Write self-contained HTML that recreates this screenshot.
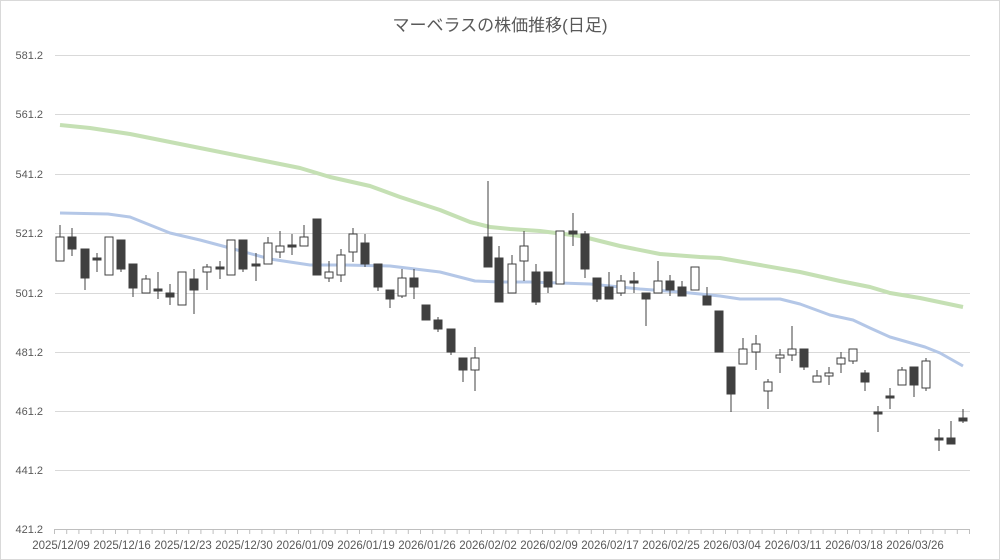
<!DOCTYPE html>
<html><head><meta charset="utf-8"><style>
html,body{margin:0;padding:0;background:#fff}
svg{display:block}
text{font-family:"Liberation Sans","Noto Sans CJK JP",sans-serif;fill:#595959}
</style></head><body>
<svg width="1000" height="560" viewBox="0 0 1000 560" xmlns="http://www.w3.org/2000/svg">
<rect x="0.5" y="0.5" width="999" height="559" fill="#fff" stroke="#d9d9d9"/>
<text x="500" y="31" font-size="17" text-anchor="middle">マーベラスの株価推移(日足)</text>
<g stroke="#d9d9d9" stroke-width="1">
<line x1="55" x2="970" y1="55.5" y2="55.5"/><line x1="55" x2="970" y1="114.5" y2="114.5"/>
<line x1="55" x2="970" y1="174.5" y2="174.5"/><line x1="55" x2="970" y1="233.5" y2="233.5"/>
<line x1="55" x2="970" y1="293.5" y2="293.5"/><line x1="55" x2="970" y1="352.5" y2="352.5"/>
<line x1="55" x2="970" y1="411.5" y2="411.5"/><line x1="55" x2="970" y1="470.5" y2="470.5"/>
</g>
<line x1="55" x2="970" y1="529.5" y2="529.5" stroke="#bfbfbf"/>
<g stroke="#bfbfbf" id="ticks">
<path d="M54.5 529v5M66.7 529v5M78.9 529v5M91.1 529v5M103.3 529v5M115.5 529v5M127.7 529v5M139.9 529v5M152.1 529v5M164.3 529v5M176.5 529v5M188.7 529v5M200.9 529v5M213.1 529v5M225.3 529v5M237.5 529v5M249.7 529v5M261.9 529v5M274.1 529v5M286.3 529v5M298.5 529v5M310.7 529v5M322.9 529v5M335.1 529v5M347.3 529v5M359.5 529v5M371.7 529v5M383.9 529v5M396.1 529v5M408.3 529v5M420.5 529v5M432.7 529v5M444.9 529v5M457.1 529v5M469.3 529v5M481.5 529v5M493.7 529v5M505.9 529v5M518.1 529v5M530.3 529v5M542.5 529v5M554.7 529v5M566.9 529v5M579.1 529v5M591.3 529v5M603.5 529v5M615.7 529v5M627.9 529v5M640.1 529v5M652.3 529v5M664.5 529v5M676.7 529v5M688.9 529v5M701.1 529v5M713.3 529v5M725.5 529v5M737.7 529v5M749.9 529v5M762.1 529v5M774.3 529v5M786.5 529v5M798.7 529v5M810.9 529v5M823.1 529v5M835.3 529v5M847.5 529v5M859.7 529v5M871.9 529v5M884.1 529v5M896.3 529v5M908.5 529v5M920.7 529v5M932.9 529v5M945.1 529v5M957.3 529v5M969.5 529v5"/>
</g>
<g font-size="11" text-anchor="end">
<text x="43" y="59">581.2</text><text x="43" y="118">561.2</text><text x="43" y="178">541.2</text>
<text x="43" y="237">521.2</text><text x="43" y="297">501.2</text><text x="43" y="356">481.2</text>
<text x="43" y="415">461.2</text><text x="43" y="474">441.2</text><text x="43" y="533">421.2</text>
</g>
<g font-size="11.5" text-anchor="middle">
<text x="61" y="549">2025/12/09</text><text x="122" y="549">2025/12/16</text><text x="183" y="549">2025/12/23</text>
<text x="244" y="549">2025/12/30</text><text x="305" y="549">2026/01/09</text><text x="366" y="549">2026/01/19</text>
<text x="427" y="549">2026/01/26</text><text x="488" y="549">2026/02/02</text><text x="549" y="549">2026/02/09</text>
<text x="610" y="549">2026/02/17</text><text x="671" y="549">2026/02/25</text><text x="732" y="549">2026/03/04</text>
<text x="793" y="549">2026/03/11</text><text x="854" y="549">2026/03/18</text><text x="915" y="549">2026/03/26</text>
</g>
<polyline fill="none" stroke="#c5e0b4" stroke-width="4" stroke-linejoin="round" points="60,125 90,128 130,134 170,142 200,148 260,160 300,168 330,177 370,186 400,197 440,210 470,222 490,227 510,229 540,231 580,236 620,246 660,254 700,257 720,258 760,265 800,272 840,281 870,287 890,293 920,298 963,307"/>
<polyline fill="none" stroke="#b4c7e7" stroke-width="3" stroke-linejoin="round" points="60,213 108,214 130,217 170,233 200,240 230,248 270,259 310,265 345,265 390,266 440,272 475,281 500,282 530,282 560,283 590,284 610,286 640,289 680,292 720,296 740,299 780,299 800,304 830,315 853,320 870,328 890,337 925,347 940,353 963,366"/>
<g stroke="#404040" stroke-width="1">
<line x1="60" x2="60" y1="225" y2="261"/><rect x="56" y="237" width="8" height="24" fill="#fff"/>
<line x1="72" x2="72" y1="228" y2="256"/><rect x="68" y="237" width="8" height="12" fill="#404040"/>
<line x1="85" x2="85" y1="249" y2="290"/><rect x="81" y="249" width="8" height="29" fill="#404040"/>
<line x1="97" x2="97" y1="253" y2="272"/><rect x="93" y="258" width="8" height="2" fill="#404040"/>
<rect x="105" y="237" width="8" height="38" fill="#fff"/>
<line x1="121" x2="121" y1="240" y2="272"/><rect x="117" y="240" width="8" height="29" fill="#404040"/>
<line x1="133" x2="133" y1="264" y2="297"/><rect x="129" y="264" width="8" height="24" fill="#404040"/>
<line x1="146" x2="146" y1="275" y2="293"/><rect x="142" y="279" width="8" height="14" fill="#fff"/>
<line x1="158" x2="158" y1="272" y2="299"/><rect x="154" y="289" width="8" height="2" fill="#404040"/>
<line x1="170" x2="170" y1="284" y2="305"/><rect x="166" y="293" width="8" height="4" fill="#404040"/>
<rect x="178" y="272" width="8" height="33" fill="#fff"/>
<line x1="194" x2="194" y1="269" y2="314"/><rect x="190" y="279" width="8" height="11" fill="#404040"/>
<line x1="207" x2="207" y1="264" y2="290"/><rect x="203" y="267" width="8" height="5" fill="#fff"/>
<line x1="220" x2="220" y1="261" y2="279"/><rect x="216" y="267" width="8" height="2" fill="#404040"/>
<rect x="227" y="240" width="8" height="35" fill="#fff"/>
<line x1="243" x2="243" y1="240" y2="272"/><rect x="239" y="240" width="8" height="29" fill="#404040"/>
<line x1="256" x2="256" y1="253" y2="281"/><rect x="252" y="264" width="8" height="2" fill="#404040"/>
<line x1="268" x2="268" y1="237" y2="264"/><rect x="264" y="243" width="8" height="21" fill="#fff"/>
<line x1="280" x2="280" y1="231" y2="258"/><rect x="276" y="246" width="8" height="6" fill="#fff"/>
<line x1="292" x2="292" y1="234" y2="255"/><rect x="288" y="245" width="8" height="2" fill="#404040"/>
<line x1="304" x2="304" y1="225" y2="246"/><rect x="300" y="237" width="8" height="9" fill="#fff"/>
<rect x="313" y="219" width="8" height="56" fill="#404040"/>
<line x1="329" x2="329" y1="261" y2="282"/><rect x="325" y="272" width="8" height="6" fill="#fff"/>
<line x1="341" x2="341" y1="249" y2="282"/><rect x="337" y="255" width="8" height="20" fill="#fff"/>
<line x1="353" x2="353" y1="228" y2="262"/><rect x="349" y="234" width="8" height="18" fill="#fff"/>
<line x1="365" x2="365" y1="234" y2="267"/><rect x="361" y="243" width="8" height="21" fill="#404040"/>
<line x1="378" x2="378" y1="264" y2="291"/><rect x="374" y="264" width="8" height="23" fill="#404040"/>
<line x1="390" x2="390" y1="290" y2="308"/><rect x="386" y="290" width="8" height="9" fill="#404040"/>
<line x1="402" x2="402" y1="269" y2="298"/><rect x="398" y="278" width="8" height="18" fill="#fff"/>
<line x1="414" x2="414" y1="269" y2="299"/><rect x="410" y="278" width="8" height="9" fill="#404040"/>
<rect x="422" y="305" width="8" height="15" fill="#404040"/>
<line x1="438" x2="438" y1="317" y2="332"/><rect x="434" y="320" width="8" height="9" fill="#404040"/>
<line x1="451" x2="451" y1="329" y2="355"/><rect x="447" y="329" width="8" height="23" fill="#404040"/>
<line x1="463" x2="463" y1="358" y2="382"/><rect x="459" y="358" width="8" height="12" fill="#404040"/>
<line x1="475" x2="475" y1="347" y2="391"/><rect x="471" y="358" width="8" height="12" fill="#fff"/>
<line x1="488" x2="488" y1="181" y2="267"/><rect x="484" y="237" width="8" height="30" fill="#404040"/>
<line x1="499" x2="499" y1="246" y2="302"/><rect x="495" y="258" width="8" height="44" fill="#404040"/>
<line x1="512" x2="512" y1="255" y2="293"/><rect x="508" y="264" width="8" height="29" fill="#fff"/>
<line x1="524" x2="524" y1="231" y2="281"/><rect x="520" y="246" width="8" height="15" fill="#fff"/>
<line x1="536" x2="536" y1="264" y2="305"/><rect x="532" y="272" width="8" height="30" fill="#404040"/>
<line x1="548" x2="548" y1="272" y2="293"/><rect x="544" y="272" width="8" height="15" fill="#404040"/>
<rect x="556" y="231" width="8" height="53" fill="#fff"/>
<line x1="573" x2="573" y1="213" y2="246"/><rect x="569" y="231" width="8" height="3" fill="#404040"/>
<line x1="585" x2="585" y1="231" y2="278"/><rect x="581" y="234" width="8" height="35" fill="#404040"/>
<line x1="597" x2="597" y1="278" y2="302"/><rect x="593" y="278" width="8" height="21" fill="#404040"/>
<line x1="609" x2="609" y1="272" y2="299"/><rect x="605" y="287" width="8" height="12" fill="#404040"/>
<line x1="621" x2="621" y1="275" y2="296"/><rect x="617" y="281" width="8" height="12" fill="#fff"/>
<line x1="634" x2="634" y1="272" y2="293"/><rect x="630" y="281" width="8" height="2" fill="#404040"/>
<line x1="646" x2="646" y1="293" y2="326"/><rect x="642" y="293" width="8" height="6" fill="#404040"/>
<line x1="658" x2="658" y1="261" y2="293"/><rect x="654" y="281" width="8" height="12" fill="#fff"/>
<line x1="670" x2="670" y1="275" y2="296"/><rect x="666" y="281" width="8" height="9" fill="#404040"/>
<line x1="682" x2="682" y1="281" y2="296"/><rect x="678" y="287" width="8" height="9" fill="#404040"/>
<rect x="691" y="267" width="8" height="23" fill="#fff"/>
<line x1="707" x2="707" y1="287" y2="305"/><rect x="703" y="296" width="8" height="9" fill="#404040"/>
<rect x="715" y="311" width="8" height="41" fill="#404040"/>
<line x1="731" x2="731" y1="367" y2="412"/><rect x="727" y="367" width="8" height="27" fill="#404040"/>
<line x1="743" x2="743" y1="338" y2="364"/><rect x="739" y="349" width="8" height="15" fill="#fff"/>
<line x1="756" x2="756" y1="335" y2="370"/><rect x="752" y="344" width="8" height="8" fill="#fff"/>
<line x1="768" x2="768" y1="379" y2="409"/><rect x="764" y="382" width="8" height="9" fill="#fff"/>
<line x1="780" x2="780" y1="349" y2="373"/><rect x="776" y="355" width="8" height="3" fill="#fff"/>
<line x1="792" x2="792" y1="326" y2="361"/><rect x="788" y="349" width="8" height="6" fill="#fff"/>
<line x1="804" x2="804" y1="349" y2="370"/><rect x="800" y="349" width="8" height="18" fill="#404040"/>
<line x1="817" x2="817" y1="370" y2="382"/><rect x="813" y="376" width="8" height="6" fill="#fff"/>
<line x1="829" x2="829" y1="367" y2="385"/><rect x="825" y="373" width="8" height="3" fill="#fff"/>
<line x1="841" x2="841" y1="352" y2="373"/><rect x="837" y="358" width="8" height="6" fill="#fff"/>
<line x1="853" x2="853" y1="349" y2="364"/><rect x="849" y="349" width="8" height="12" fill="#fff"/>
<line x1="865" x2="865" y1="370" y2="391"/><rect x="861" y="373" width="8" height="9" fill="#404040"/>
<line x1="878" x2="878" y1="406" y2="432"/><rect x="874" y="412" width="8" height="2" fill="#404040"/>
<line x1="890" x2="890" y1="388" y2="409"/><rect x="886" y="396" width="8" height="2" fill="#404040"/>
<line x1="902" x2="902" y1="367" y2="385"/><rect x="898" y="370" width="8" height="15" fill="#fff"/>
<line x1="914" x2="914" y1="367" y2="397"/><rect x="910" y="367" width="8" height="18" fill="#404040"/>
<line x1="926" x2="926" y1="358" y2="391"/><rect x="922" y="361" width="8" height="27" fill="#fff"/>
<line x1="939" x2="939" y1="429" y2="451"/><rect x="935" y="438" width="8" height="2" fill="#404040"/>
<line x1="951" x2="951" y1="421" y2="444"/><rect x="947" y="438" width="8" height="6" fill="#404040"/>
<line x1="963" x2="963" y1="409" y2="423"/><rect x="959" y="418" width="8" height="3" fill="#404040"/>
</g>
</svg>
</body></html>
